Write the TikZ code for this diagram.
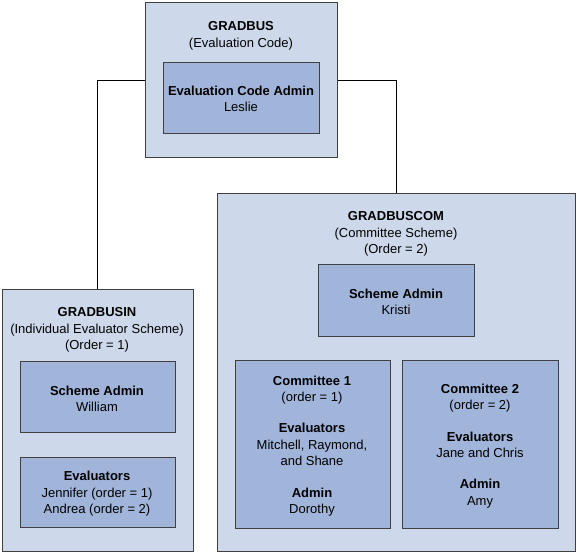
\documentclass[tikz,border=0pt]{standalone}
\usepackage{fontspec}
\setmainfont{Liberation Sans}
\definecolor{outerfill}{HTML}{CDD9EB}
\definecolor{innerfill}{HTML}{A1B4DA}
\definecolor{edge}{HTML}{404040}
\begin{document}
\begin{tikzpicture}[x=1pt,y=-1pt,
  outerbox/.style={draw=edge,fill=outerfill,line width=1.3pt,anchor=north west,inner sep=0pt},
  innerbox/.style={draw=edge,fill=innerfill,line width=1.3pt,anchor=north west,inner sep=0pt},
  txt/.style={align=center,inner sep=0pt,font=\fontsize{13}{16.4}\selectfont},
  conn/.style={draw=black,line width=0.9pt}]
\useasboundingbox (0,0) rectangle (578,554);
% boxes
\node[outerbox,minimum width=192pt,minimum height=155pt] (top) at (145,2) {};
\node[innerbox,minimum width=156pt,minimum height=71pt] (topadmin) at (163,62) {};
\node[outerbox,minimum width=191pt,minimum height=262pt] (in) at (2,289) {};
\node[innerbox,minimum width=155pt,minimum height=71pt] (inadmin) at (20,361) {};
\node[innerbox,minimum width=155pt,minimum height=70pt] (ineval) at (20,457) {};
\node[outerbox,minimum width=358pt,minimum height=358pt] (com) at (217,193) {};
\node[innerbox,minimum width=156pt,minimum height=72pt] (comadmin) at (318,264) {};
\node[innerbox,minimum width=155pt,minimum height=168pt] (c1) at (235,360) {};
\node[innerbox,minimum width=156pt,minimum height=168pt] (c2) at (402,360) {};
% connectors
\coordinate (lt) at (97,80);
\coordinate (rt) at (396,80);
\draw[conn] (top.west |- lt) -- (lt) -- (lt |- in.north);
\draw[conn] (top.east |- rt) -- (rt) -- (rt |- com.north);
% texts
\node[txt] (t1) at (241,36) {\textbf{GRADBUS}\\(Evaluation Code)};
\node[txt] (t2) at (241,99) {\textbf{Evaluation Code Admin}\\Leslie};
\node[txt] (t3) at (97,330) {\textbf{GRADBUSIN}\\(Individual Evaluator Scheme)\\(Order = 1)};
\node[txt] (t4) at (97,399) {\textbf{Scheme Admin}\\William};
\node[txt] (t5) at (97,494) {\textbf{Evaluators}\\Jennifer (order = 1)\\Andrea (order = 2)};
\node[txt] (t6) at (396,234) {\textbf{GRADBUSCOM}\\(Committee Scheme)\\(Order = 2)};
\node[txt] (t7) at (396,302) {\textbf{Scheme Admin}\\Kristi};
\node[txt] (t8) at (312,446) {\textbf{Committee 1}\\(order = 1)\\[15pt]\textbf{Evaluators}\\Mitchell, Raymond,\\and Shane\\[15pt]\textbf{Admin}\\Dorothy};
\node[txt] (t9) at (480,446) {\textbf{Committee 2}\\(order = 2)\\[15pt]\textbf{Evaluators}\\Jane and Chris\\[15pt]\textbf{Admin}\\Amy};
\end{tikzpicture}
\end{document}
